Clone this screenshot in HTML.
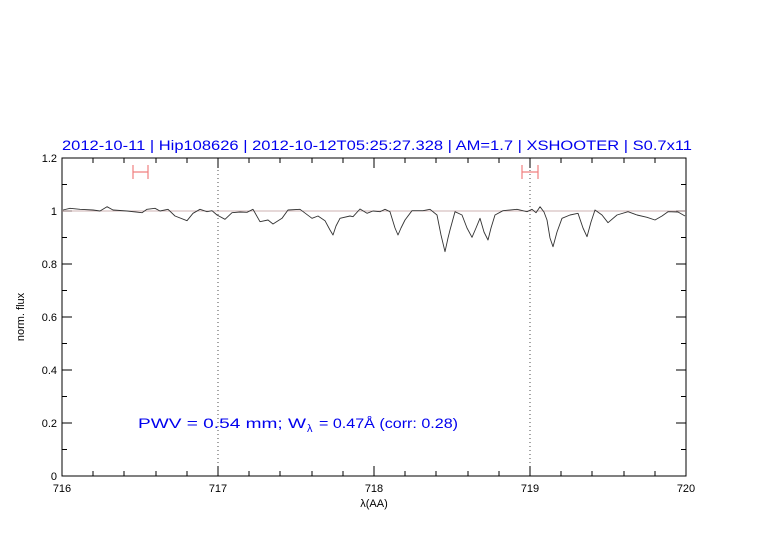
<!DOCTYPE html>
<html><head><style>body{margin:0;background:#fff}</style></head><body>
<svg width="782" height="542" xmlns="http://www.w3.org/2000/svg" font-family="Liberation Sans, sans-serif">
<rect width="782" height="542" fill="#fff"/>
<text x="62" y="150" font-size="13.5" fill="#0000ee" textLength="630" lengthAdjust="spacingAndGlyphs">2012-10-11 | Hip108626 | 2012-10-12T05:25:27.328 | AM=1.7 | XSHOOTER | S0.7x11</text>
<g stroke="#000" stroke-width="1" fill="none">
<rect x="62" y="158" width="624" height="318"/>
<path d="
M93,476v-5M124,476v-5M156,476v-5M187,476v-5M249,476v-5M280,476v-5M312,476v-5M343,476v-5M405,476v-5M436,476v-5M468,476v-5M499,476v-5M561,476v-5M592,476v-5M624,476v-5M655,476v-5
M93,158v5M124,158v5M156,158v5M187,158v5M249,158v5M280,158v5M312,158v5M343,158v5M405,158v5M436,158v5M468,158v5M499,158v5M561,158v5M592,158v5M624,158v5M655,158v5
M218,476v-10M374,476v-10M530,476v-10M218,158v10M374,158v10M530,158v10
M62,449.5h5M62,396.5h5M62,343.5h5M62,290.5h5M62,237.5h5M62,184.5h5
M686,449.5h-5M686,396.5h-5M686,343.5h-5M686,290.5h-5M686,237.5h-5M686,184.5h-5
M62,423h10M62,370h10M62,317h10M62,264h10M62,211h10
M686,423h-10M686,370h-10M686,317h-10M686,264h-10M686,211h-10"/>
</g>
<line x1="62" y1="211" x2="686" y2="211" stroke="#b99" stroke-width="0.8"/>
<g stroke="#000" stroke-width="0.7" stroke-dasharray="1,3">
<line x1="218" y1="158" x2="218" y2="476"/><line x1="530" y1="158" x2="530" y2="476"/>
</g>
<g stroke="#f08080" stroke-width="1.2">
<path d="M133,172h15M133,165v14M148,165v14M522,172h16M522,165v14M538,165v14"/>
</g>
<polyline fill="none" stroke="#333" stroke-width="0.9" stroke-linejoin="round" points="63,210 70,208.3 80,209.3 93,210 100,211 107,206.7 113,210 127,211 142,212.7 147,209.3 155,208.3 160,211 168,209.3 175,216 187,220.7 193,213.3 200,209.3 207,211.7 212,210.7 217,215 225,219.3 232,212.7 240,212 247,212.3 253,209.3 260,221.7 268,220 273,224 282,218.3 288,210 300,209.3 312,218.3 318,216 325,220.7 330,230 333,235 336,226 340,218.3 350,216 353,216.7 360,209 367,213.3 373,211 380,211.7 385,209.3 390,211.7 395,228 398,235 401,228 405,220 412,210.7 423,210.7 430,209.3 437,215 441,235 445,251.7 448,238 450,230 455,211.7 462,215 467,228 472,237.3 476,228 480,218.3 484,232 488,240 491,228 495,215 503,210.7 517,209.3 527,211.7 532,209.3 536,212.7 540,206.7 544,212 547,220 550,238 553,246.7 557,232 562,218.3 570,215 578,213.3 583,228 587,236.7 591,222 595,210 602,215 608,222.7 617,215 628,211.7 637,215 647,217.3 655,220 662,216 668,211.7 678,212 685,216"/>
<g font-size="11" fill="#000" text-anchor="end">
<text x="57" y="480">0</text><text x="57" y="427">0.2</text><text x="57" y="374">0.4</text><text x="57" y="321">0.6</text><text x="57" y="268">0.8</text><text x="57" y="215">1</text><text x="57" y="162">1.2</text>
</g>
<g font-size="11" fill="#000" text-anchor="middle">
<text x="62" y="492">716</text><text x="218" y="492">717</text><text x="374" y="492">718</text><text x="530" y="492">719</text><text x="686" y="492">720</text>
<text x="374" y="507">λ(AA)</text>
</g>
<text x="24" y="317" font-size="11" text-anchor="middle" transform="rotate(-90 24 317)">norm. flux</text>
<g font-size="13.5" fill="#0000ee">
<text x="138" y="428" textLength="168" lengthAdjust="spacingAndGlyphs">PWV = 0.54 mm; W</text>
<text x="307" y="432" font-size="11">λ</text>
<text x="319" y="428" textLength="139" lengthAdjust="spacingAndGlyphs">= 0.47Å (corr: 0.28)</text>
</g>
</svg>
</body></html>
